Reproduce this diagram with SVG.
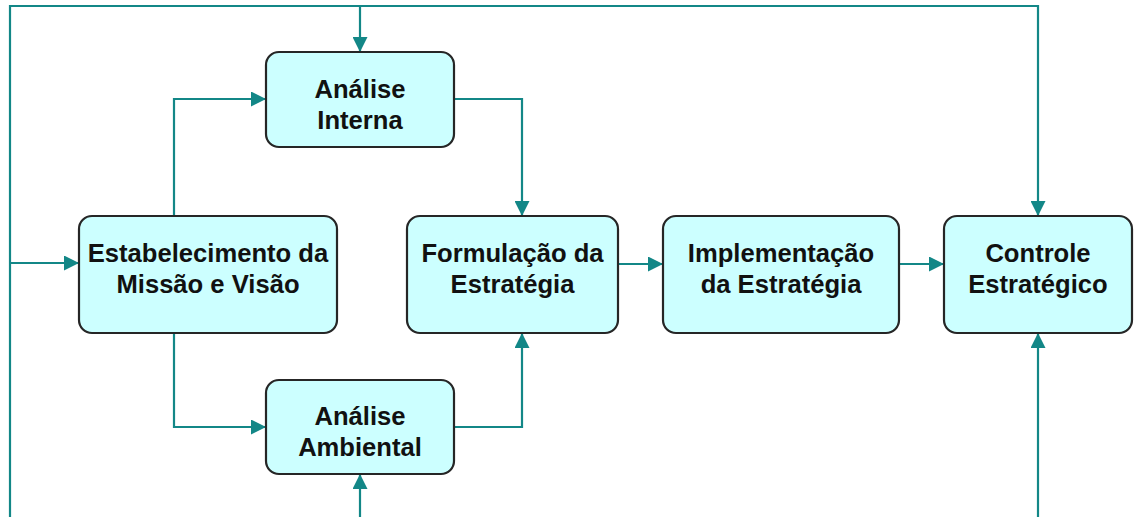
<svg xmlns="http://www.w3.org/2000/svg" width="1134" height="517" viewBox="0 0 1134 517">
<style>
.box{fill:#ccffff;stroke:#262626;stroke-width:2.2}
.lbl{font-family:"Liberation Sans",Arial,sans-serif;font-weight:bold;font-size:25.6px;fill:#111;text-anchor:middle}
.c{fill:none;stroke:#138787;stroke-width:2.2}
</style>
<defs>
<marker id="ah" markerUnits="userSpaceOnUse" markerWidth="15" markerHeight="15" refX="15" refY="7.5" orient="auto">
<path d="M0,0 L15,7.5 L0,15 z" fill="#138787"/>
</marker>
</defs>
<rect width="1134" height="517" fill="#fff"/>
<g id="connectors">
<path class="c" d="M10,517 V6 H1038 V216" marker-end="url(#ah)"/>
<path class="c" d="M360,6 V52" marker-end="url(#ah)"/>
<path class="c" d="M10,263 H79" marker-end="url(#ah)"/>
<path class="c" d="M174,216 V99 H266" marker-end="url(#ah)"/>
<path class="c" d="M174,333 V427 H266" marker-end="url(#ah)"/>
<path class="c" d="M454,99 H522 V216" marker-end="url(#ah)"/>
<path class="c" d="M454,427 H522 V333" marker-end="url(#ah)"/>
<path class="c" d="M618,264 H663" marker-end="url(#ah)"/>
<path class="c" d="M899,264 H944" marker-end="url(#ah)"/>
<path class="c" d="M360,517 V474" marker-end="url(#ah)"/>
<path class="c" d="M1038,517 V333" marker-end="url(#ah)"/>
</g>
<g id="analise-interna">
<rect class="box" x="266" y="52" width="188" height="95" rx="13"/>
<text class="lbl" x="360" y="98">Análise</text>
<text class="lbl" x="360" y="129">Interna</text>
</g>
<g id="estabelecimento">
<rect class="box" x="79" y="216" width="258" height="117" rx="13"/>
<text class="lbl" x="208" y="262">Estabelecimento da</text>
<text class="lbl" x="208" y="293">Missão e Visão</text>
</g>
<g id="analise-ambiental">
<rect class="box" x="266" y="380" width="188" height="94" rx="13"/>
<text class="lbl" x="360" y="425">Análise</text>
<text class="lbl" x="360" y="456">Ambiental</text>
</g>
<g id="formulacao">
<rect class="box" x="407" y="216" width="211" height="117" rx="13"/>
<text class="lbl" x="512.5" y="262">Formulação da</text>
<text class="lbl" x="512.5" y="293">Estratégia</text>
</g>
<g id="implementacao">
<rect class="box" x="663" y="216" width="236" height="117" rx="13"/>
<text class="lbl" x="781" y="262">Implementação</text>
<text class="lbl" x="781" y="293">da Estratégia</text>
</g>
<g id="controle">
<rect class="box" x="944" y="216" width="188" height="117" rx="13"/>
<text class="lbl" x="1038" y="262">Controle</text>
<text class="lbl" x="1038" y="293">Estratégico</text>
</g>
</svg>
